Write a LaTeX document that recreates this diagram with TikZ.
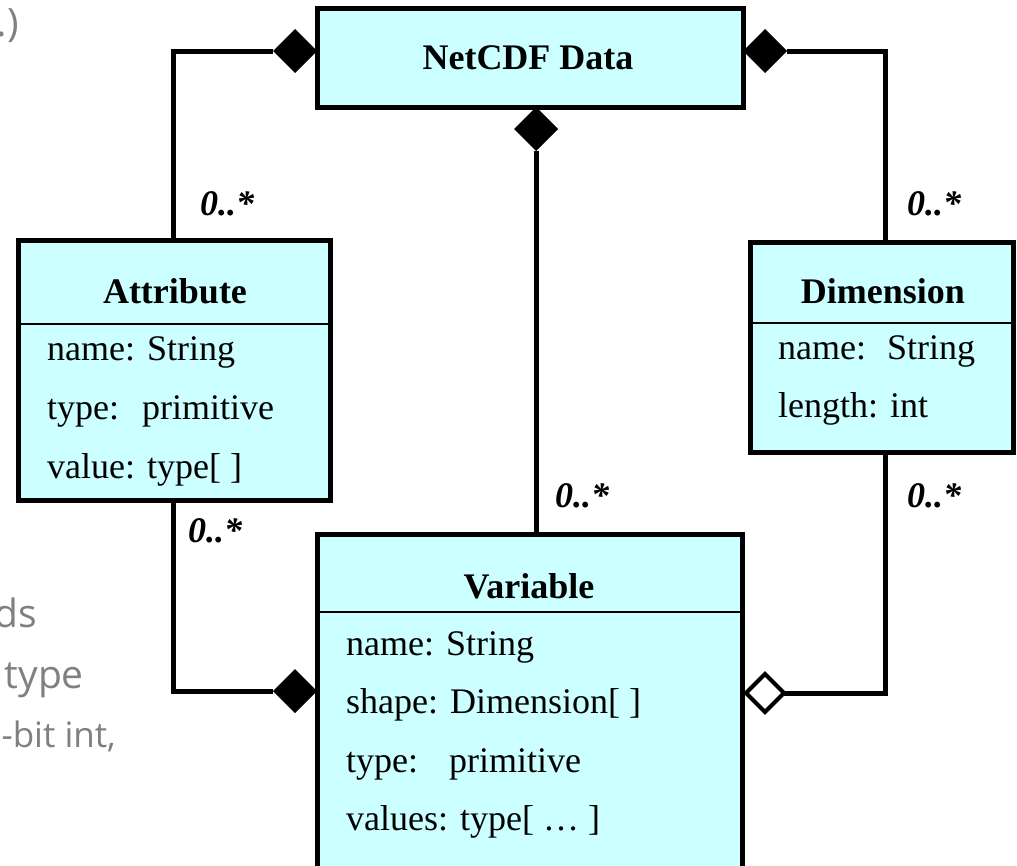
\documentclass[tikz,border=0pt]{standalone}
\usepackage{fontspec}
\setmainfont{Liberation Serif}
\newfontfamily\fragfont{Open Sans}
\usetikzlibrary{shapes.geometric}
\definecolor{umlfill}{RGB}{204,255,255}
\definecolor{fraggray}{RGB}{128,128,128}
\tikzset{
  umlbox/.style={draw=black, line width=5pt, fill=umlfill, rectangle, inner sep=0pt, outer sep=0pt},
  divider/.style={line width=2pt},
  conn/.style={line width=5pt},
  comp/.style={diamond, fill=black, draw=none, minimum width=44pt, minimum height=44pt, inner sep=0pt, outer sep=0pt},
  aggr/.style={diamond, fill=white, draw=black, line width=4pt, minimum width=38pt, minimum height=38pt, inner sep=0pt, outer sep=0pt},
  header/.style={font=\fontsize{36}{40}\selectfont\bfseries, inner sep=0pt, anchor=base},
  row/.style={font=\fontsize{36}{40}\selectfont, inner sep=0pt, anchor=base west},
  mult/.style={font=\fontsize{36}{40}\selectfont\bfseries\itshape, inner sep=0pt, anchor=base west},
  frag/.style={font=\fragfont\fontsize{39}{44}\selectfont, text=fraggray, inner sep=0pt, anchor=base east}
}
\begin{document}
\begin{tikzpicture}[x=1pt,y=-1pt]
\useasboundingbox (0,0) rectangle (1017,865);
\clip (0,0) rectangle (1017,865);
\fill[white] (0,0) rectangle (1017,865);

% background fragments
\node[frag] (f1) at (19,36) {.)};
\node[frag] (f2) at (37,627) {ds};
\node[frag] (f3) at (84,688) {type};
\node[frag, font=\fragfont\fontsize{35}{40}\selectfont] (f4) at (116,747) {-bit int,};

% boxes
\node[umlbox, minimum width=426pt, minimum height=99pt] (net) at (530,57.5) {};
\node[umlbox, minimum width=312pt, minimum height=260pt] (attr) at (174,370) {};
\node[umlbox, minimum width=263pt, minimum height=210pt] (dim) at (881.5,347) {};
\node[umlbox, minimum width=425pt, minimum height=351pt] (var) at (529.5,709.5) {};

% dividers
\draw[divider] (attr.west |- 0,324) -- (attr.east |- 0,324);
\draw[divider] (dim.west |- 0,323) -- (dim.east |- 0,323);
\draw[divider] (var.west |- 0,612) -- (var.east |- 0,612);

% texts
\node[header] (tnet) at (528,69) {NetCDF Data};
\node[header] (tattr) at (175,303) {Attribute};
\node[row] (a1) at (47,360) {name: String};
\node[row] (a2) at (47,419) {type:\hspace{23pt}primitive};
\node[row] (a3) at (47,478) {value: type[ ]};
\node[header] (tdim) at (883,303) {Dimension};
\node[row] (d1) at (778,359) {name:\hspace{9pt} String};
\node[row] (d2) at (778,417) {length: int};
\node[header] (tvar) at (529,598) {Variable};
\node[row] (v1) at (346,655) {name: String};
\node[row] (v2) at (346,713) {shape: Dimension[ ]};
\node[row] (v3) at (346,772) {type:\hspace{31pt}primitive};
\node[row] (v4) at (346,830) {values: type[ \dots\ ]};

% diamonds
\node[comp] (dA) at (295,51) {};
\node[comp] (dC) at (765,51) {};
\node[comp] (dN) at (536,129) {};
\node[comp] (dB) at (295,691) {};
\node[aggr] (dD) at (765,693) {};

% connectors
\coordinate (ca) at (173,0);
\coordinate (cd) at (885,0);
\draw[conn] (ca |- attr.north) |- (dA.west);
\draw[conn] (cd |- dim.north) |- (dC.east);
\draw[conn] (dN.south) -- (dN.south |- var.north);
\draw[conn] (ca |- attr.south) |- (dB.west);
\draw[conn] (cd |- dim.south) |- (dD.east);

% multiplicities
\node[mult] (m1) at (200,215) {0..*};
\node[mult] (m2) at (907,215) {0..*};
\node[mult] (m3) at (555,507) {0..*};
\node[mult] (m4) at (907,507) {0..*};
\node[mult] (m5) at (188,542) {0..*};
\end{tikzpicture}
\end{document}
